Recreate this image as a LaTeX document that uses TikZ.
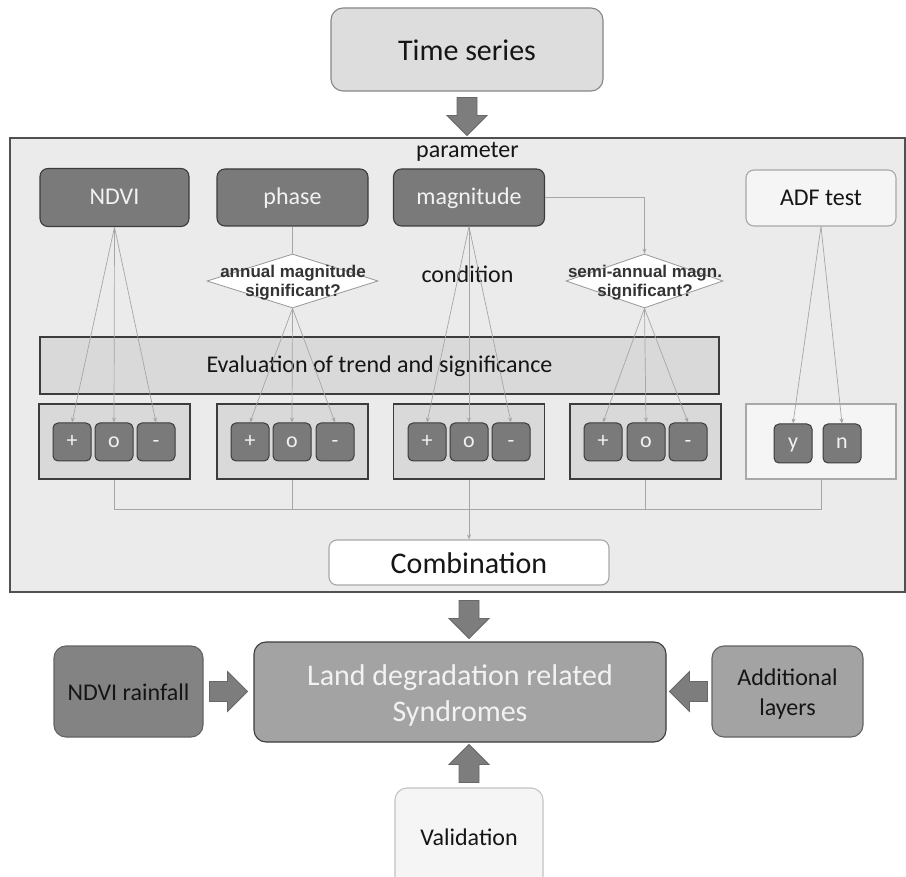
\documentclass[tikz,border=0pt]{standalone}
\usepackage{fontspec}
\setmainfont{Carlito}
\newfontfamily\dfont{Liberation Sans}
\usetikzlibrary{shapes.geometric,arrows.meta,calc}

\definecolor{panelbg}{HTML}{EBEBEB}
\definecolor{panelline}{HTML}{505050}
\definecolor{darkfill}{HTML}{7A7A7A}
\definecolor{darkline}{HTML}{3C3C3C}
\definecolor{lightfill}{HTML}{F5F5F5}
\definecolor{lightline}{HTML}{A8A8A8}
\definecolor{midfill}{HTML}{D9D9D9}
\definecolor{tsfill}{HTML}{DDDDDD}
\definecolor{wire}{HTML}{A6A6A6}
\definecolor{arrowfill}{HTML}{7D7D7D}
\definecolor{arrowline}{HTML}{686868}
\definecolor{ldfill}{HTML}{A3A3A3}
\definecolor{rainfill}{HTML}{838383}
\definecolor{inktext}{HTML}{151515}
\definecolor{paletext}{HTML}{F2F2F2}

\newcommand\sz[2]{\fontsize{#1}{#2}\selectfont}

\tikzset{
  boxbase/.style={rounded corners=8pt, line width=1.1pt, inner sep=0pt, align=center},
  oneline/.style={text height=18pt, text depth=3pt},
  darkbox/.style={boxbase, oneline, fill=darkfill, draw=darkline, text=paletext, font=\sz{24}{28}},
  lightbox/.style={boxbase, oneline, fill=lightfill, draw=lightline, text=inktext, font=\sz{24}{28}},
  groupbox/.style={line width=1.1pt, fill=midfill, draw=darkline, minimum width=151pt, minimum height=75pt, inner sep=0pt},
  ynbox/.style={groupbox, fill=lightfill, draw=lightline},
  tinybox/.style={rounded corners=5pt, line width=1pt, fill=darkfill, draw=darkline, text=paletext,
    minimum width=38pt, minimum height=38pt, inner sep=0pt, font=\sz{22}{26},
    text height=14pt, text depth=3pt},
  decision/.style={diamond, aspect=3, fill=white, draw=lightline!90!black, line width=0.8pt,
    minimum width=171pt, minimum height=54pt, inner sep=0pt},
  dtext/.style={font=\dfont\bfseries\sz{17}{19}, text=black!80, align=center, inner sep=0pt},
  wireline/.style={draw=wire, line width=0.7pt},
  conn/.style={wireline, -{Stealth[length=5pt,width=4pt]}},
  blockarr/.pic={\filldraw[fill=arrowfill, draw=arrowline, line width=0.8pt]
    (-10,0) -- (10,0) -- (10,18) -- (20,18) -- (0,38) -- (-20,18) -- (-10,18) -- cycle;}
}

\begin{document}
\begin{tikzpicture}[x=1pt,y=-1pt]
\useasboundingbox (0,0) rectangle (906,877);
\begin{scope}
\clip (0,0) rectangle (906,877);

% input
\node[boxbase, fill=tsfill, draw=lightline!80!black, rounded corners=12pt, text=inktext,
  font=\sz{30}{34}, text height=26pt, text depth=3pt,
  minimum width=272pt, minimum height=83pt] (ts) at (467,49.5) {Time series};

% processing panel
\node[fill=panelbg, draw=panelline, line width=1.1pt, minimum width=895pt, minimum height=454pt,
  inner sep=0pt] (panel) at (457.5,365) {};
\pic at ($(ts.south)+(0,6)$) {blockarr};

\node[font=\sz{24}{28}, text=inktext, inner sep=0pt, oneline] (param) at (467.5,150.5) {parameter};

% parameters
\node[darkbox, minimum width=149pt, minimum height=58pt] (ndvi) at (114.5,197.5) {NDVI};
\node[darkbox, minimum width=151pt, minimum height=57pt] (phase) at (292.5,197.5) {phase};
\node[darkbox, minimum width=151pt, minimum height=57pt] (mag) at (469,197.5) {magnitude};
\node[lightbox, minimum width=150pt, minimum height=56pt] (adf) at (821,198) {ADF test};

\node[font=\sz{24}{28}, text=inktext, inner sep=0pt, oneline] (cond) at (467.5,275.5) {condition};

% decisions
\node[decision] (d1) at (292.5,281) {};
\node[dtext] at (293,283) {annual magnitude\\significant?};
\node[decision, minimum width=157pt] (d2) at (644.5,281) {};
\node[dtext] at (645,283) {semi-annual magn.\\significant?};

% evaluation bar
\node[line width=1.1pt, fill=midfill, draw=darkline, minimum width=679pt, minimum height=57pt,
  inner sep=0pt, font=\sz{24}{28}, oneline, text=inktext] (eval) at (379.5,365.5) {Evaluation of trend and significance};

% result groups
\node[groupbox] (g1) at (114.5,441.5) {};
\node[groupbox] (g2) at (292.5,441.5) {};
\node[groupbox] (g3) at (469,441.5) {};
\node[groupbox] (g4) at (645.5,441.5) {};
\node[ynbox, minimum width=150pt] (g5) at (821,441.5) {};

\foreach \g/\xa/\xb/\xc in {1/72/114/156, 2/250/292/335, 3/427/469/511, 4/603/646/688}{
  \node[tinybox] (p\g) at (\xa,442) {+};
  \node[tinybox] (o\g) at (\xb,442) {o};
  \node[tinybox] (m\g) at (\xc,442) {-};
}
\node[tinybox, minimum height=39pt] (yy) at (793,443.5) {y};
\node[tinybox, minimum height=39pt] (nn) at (842,443.5) {n};

% connectors
\draw[wireline] (phase.south) -- (d1.north);
\draw[conn] (mag.east) -| (d2.north);
\foreach \src/\g in {ndvi/1, d1/2, mag/3, d2/4}{
  \draw[conn] (\src.south) -- (p\g.north);
  \draw[conn] (\src.south) -- (o\g.north);
  \draw[conn] (\src.south) -- (m\g.north);
}
\draw[conn] (adf.south) -- (yy.north);
\draw[conn] (adf.south) -- (nn.north);

\node[boxbase, fill=white, draw=lightline, font=\sz{30}{34}, text=inktext,
  text height=24pt, text depth=3pt,
  minimum width=280pt, minimum height=45pt] (comb) at (469,562.5) {Combination};

\coordinate (bus) at (0,509);
\draw[wireline] (g1.south) -- (g1.south |- bus) -- (g5.south |- bus) -- (g5.south);
\draw[wireline] (g2.south) -- (g2.south |- bus);
\draw[wireline] (g4.south) -- (g4.south |- bus);
\draw[conn] (g3.south) -- (comb.north);

% synthesis
\pic at ($(comb.south |- panel.south)+(0,8)$) {blockarr};
\node[boxbase, fill=ldfill, draw=darkline, rounded corners=12pt,
  minimum width=412pt, minimum height=100pt] (ld) at (460,692) {};
\node[align=center, inner sep=0pt, text=paletext, font=\sz{30}{36}] (ldtext) at ($(ld.center)+(0,4)$)
  {Land degradation related\\Syndromes};
\node[boxbase, fill=rainfill, draw=darkline!80, rounded corners=12pt, text=inktext, font=\sz{24}{28},
  text height=20pt, text depth=3pt,
  minimum width=149pt, minimum height=91pt] (rain) at (128.5,691.5) {NDVI rainfall};
\node[boxbase, fill=ldfill, draw=darkline!80, rounded corners=12pt,
  minimum width=151pt, minimum height=91pt] (addl) at (787.5,691.5) {};
\node[align=center, inner sep=0pt, text=inktext, font=\sz{24}{30}] (addltext) at ($(addl.center)+(0,3)$)
  {Additional\\layers};
\node[boxbase, oneline, fill=lightfill, draw=lightline!70, rounded corners=12pt, text=inktext, font=\sz{24}{28},
  minimum width=148pt, minimum height=100pt] (valid) at (469,838) {Validation};

\pic[rotate=90] at ($(rain.east)+(6,0)$) {blockarr};
\pic[rotate=-90] at ($(addl.west)+(-4,0)$) {blockarr};
\pic[rotate=180] at ($(valid.north)+(0,-5)$) {blockarr};
\end{scope}
\end{tikzpicture}
\end{document}
